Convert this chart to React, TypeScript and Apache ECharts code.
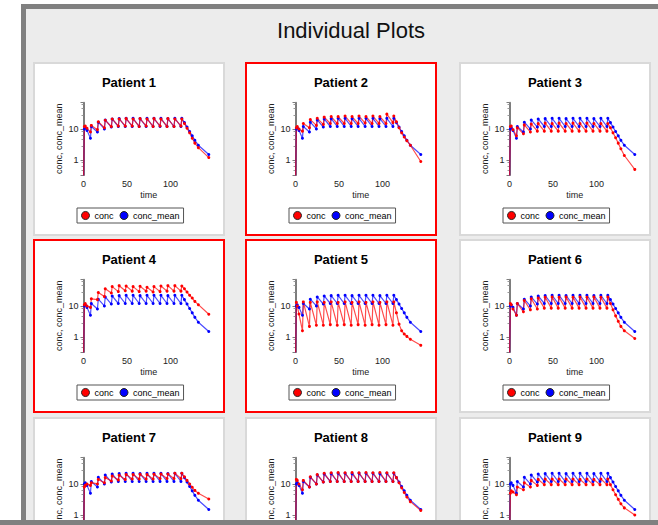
import { useEffect, useRef } from 'react';
import * as echarts from 'echarts';

const FONT = '"Liberation Sans", Arial, Helvetica, sans-serif';

const MAIN_TITLE = 'Individual Plots';
const PATIENTS = ['Patient 1', 'Patient 2', 'Patient 3', 'Patient 4', 'Patient 5', 'Patient 6', 'Patient 7', 'Patient 8', 'Patient 9'];
const HIGHLIGHTED = [false, true, false, true, true, false, false, false, false];
const SERIES_NAMES = ['conc', 'conc_mean'];
const X_NAME = 'time';
const Y_NAME = 'conc, conc_mean';
const Y_LABELS = [1, 10];

// sampling times (h)
const TIME = [0, 1, 2, 4, 8,
  9, 16, 17, 24, 25, 32, 33, 40, 41, 48, 49, 56, 57, 64, 65, 72, 73, 80, 81, 88, 89, 96, 97, 104, 105, 112,
  113, 116, 119, 122, 125, 128, 132, 144];

const CONC_MEAN = [0.2, 10, 11, 9, 5,
  12, 8, 16.5, 10, 19.5, 11.5, 21, 12, 21.5, 12, 22, 12, 22, 12, 21.5, 12, 22, 12, 22, 12, 22, 12, 21.5, 12, 22, 12,
  22, 16, 11.5, 8.3, 6, 4.3, 3, 1.5];

const CONC_P1 = [0.2, 12, 12.5, 10.5, 8,
  13, 9.5, 17, 11, 19, 12, 21, 12.5, 21, 12.5, 21.5, 12.5, 21, 12, 21.5, 12.5, 21, 12, 21.5, 12.5, 21, 12, 21.5, 12, 21, 12.5,
  21, 15, 10.5, 7.5, 5, 3.5, 2.5, 1.2];
const CONC_P2 = [0.2, 11, 12, 10, 8.5,
  15, 11, 20, 13, 22, 14, 24, 15, 25, 15, 25, 15, 26, 15, 25, 15, 26, 15.5, 25, 15, 26, 15, 25, 15, 30, 16,
  26, 17, 11, 7.5, 5.5, 4.2, 3, 0.9];
const CONC_P3 = [0.2, 12, 12.5, 9.5, 6,
  11, 7, 13.5, 8, 14.5, 8.5, 15, 8.5, 15.5, 8.5, 15, 8.5, 15.5, 8.5, 15, 8.5, 15.5, 8.5, 15, 8.5, 15.5, 8.5, 15, 8.5, 15, 8.5,
  15, 11, 7.5, 5.2, 3.5, 2.3, 1.4, 0.5];
const CONC_P4 = [0.2, 11, 12, 10, 9,
  17, 16, 27, 20, 36, 26, 42, 29, 45, 31, 44, 30, 42, 29, 43, 30, 40, 28, 42, 29, 44, 30, 45, 30, 45, 30,
  44, 36, 28, 22, 18, 14, 11, 5.4];
const CONC_P5 = [0.2, 13, 10, 5.5, 1.6,
  13.5, 2.2, 13, 2.4, 13.5, 2.4, 13, 2.5, 13.5, 2.4, 13, 2.5, 13.5, 2.4, 13, 2.5, 13.5, 2.4, 13, 2.5, 13.5, 2.4, 13, 2.5, 13.5, 2.4,
  13.5, 6, 2.6, 1.6, 1.25, 1.05, 0.85, 0.54];
const CONC_P6 = [0.2, 12, 11, 8, 5,
  12, 6.5, 15, 7.5, 17, 8, 18, 8.5, 19, 8.5, 19.5, 8.5, 19, 8.5, 19.5, 8.5, 19, 8.5, 19.5, 8.5, 19, 8.5, 19.5, 8.5, 19, 8.5,
  19.5, 12, 7.5, 4.8, 3.2, 2.2, 1.6, 0.9];
const CONC_P7 = [0.2, 8, 9, 10, 9,
  11, 10, 14, 11, 16, 12.5, 18, 13.5, 19, 14, 20, 14.5, 20, 14.5, 20.5, 14.5, 20, 14.5, 20.5, 15, 21, 15, 21, 15, 22, 15,
  22, 17, 13, 10, 7.8, 6.2, 5, 3.3];
const CONC_P8 = [0.2, 14, 13, 10, 6.5,
  13, 8, 17, 10, 20, 11.5, 22, 12, 23, 12, 23.5, 12, 23, 12, 23.5, 12, 23, 12, 23.5, 12, 23, 12, 23.5, 12, 23, 12,
  23, 16, 11, 7.5, 5.3, 3.8, 2.7, 1.4];
const CONC_P9 = [0.2, 5, 6, 5.5, 4.5,
  8, 6.5, 11, 8, 13, 9, 14, 9.5, 14.5, 9.5, 14.5, 9.5, 14.5, 9.5, 14.5, 9.5, 14.5, 9.5, 14, 9.5, 14.5, 9.5, 14, 9.5, 14.5, 9.5,
  14.5, 9.5, 6.5, 4.5, 3.2, 2.3, 1.7, 1.0];

const CONC = [CONC_P1, CONC_P2, CONC_P3, CONC_P4, CONC_P5, CONC_P6, CONC_P7, CONC_P8, CONC_P9];

// layout
const COLS = [34, 246, 460];
const ROWS = [63, 240, 418];
const PW = 190;
const PH = 172;

function buildOption() {
  const grids: any[] = [];
  const xAxes: any[] = [];
  const yAxes: any[] = [];
  const series: any[] = [];
  const legends: any[] = [];
  const graphics: any[] = [];

  graphics.push({ type: 'rect', z: -30, shape: { x: 0, y: 0, width: 658, height: 525 }, style: { fill: '#ffffff' } });
  graphics.push({ type: 'rect', z: -29, shape: { x: 21, y: 4, width: 637, height: 521 }, style: { fill: '#808080' } });
  graphics.push({ type: 'rect', z: -28, shape: { x: 26, y: 9, width: 632, height: 511 }, style: { fill: '#ececec' } });
  graphics.push({
    type: 'text', z: 10, x: 351, y: 30,
    style: { text: MAIN_TITLE, fill: '#111', font: `22px ${FONT}`, textAlign: 'center', textVerticalAlign: 'middle', align: 'center', verticalAlign: 'middle' },
  });

  PATIENTS.forEach((name, i) => {
    const px = COLS[i % 3];
    const py = ROWS[Math.floor(i / 3)];
    graphics.push({
      type: 'rect', z: -20,
      shape: { x: px, y: py, width: PW, height: PH },
      style: { fill: '#ffffff', stroke: HIGHLIGHTED[i] ? '#ff0000' : '#d9d9d9', lineWidth: 2 },
    });
    graphics.push({
      type: 'text', z: 10, x: px + PW / 2, y: py + 19,
      style: { text: name, fill: '#000', font: `bold 13px ${FONT}`, textAlign: 'center', textVerticalAlign: 'middle', align: 'center', verticalAlign: 'middle' },
    });

    grids.push({ left: px + 49.5, top: py + 39.7, width: 130.5, height: 72.3, containLabel: false, outerBoundsMode: 'none' });

    xAxes.push({
      type: 'value', gridIndex: i, min: 0, max: 150, interval: 50,
      axisLine: { show: false },
      axisTick: { show: false },
      splitLine: { show: false },
      axisLabel: { fontSize: 9, color: '#222', fontFamily: FONT, margin: 4, showMaxLabel: false },
      name: X_NAME, nameLocation: 'middle', nameGap: 15,
      nameTextStyle: { fontSize: 9, color: '#222', fontFamily: FONT },
    });

    yAxes.push({
      type: 'log', logBase: 10, gridIndex: i, min: 0.33, max: 70,
      axisLine: { show: true, lineStyle: { color: '#7d7d7d', width: 2 } },
      axisTick: { show: true, length: 3, lineStyle: { color: '#7d7d7d', width: 1 } },
      minorTick: { show: true, splitNumber: 5, length: 2, lineStyle: { color: '#999', width: 1 } },
      splitLine: { show: false },
      axisLabel: {
        fontSize: 9, color: '#222', fontFamily: FONT, margin: 5,
        formatter: (v: number) => {
          const r = Math.round(v * 1000) / 1000;
          return Y_LABELS.includes(r) ? String(r) : '';
        },
      },
      name: Y_NAME, nameLocation: 'middle', nameGap: 20,
      nameTextStyle: { fontSize: 9, color: '#222', fontFamily: FONT },
    });

    series.push({
      type: 'line', name: SERIES_NAMES[1], xAxisIndex: i, yAxisIndex: i,
      data: TIME.map((t, k) => [t, CONC_MEAN[k]]),
      symbol: 'circle', symbolSize: 3, showSymbol: true, clip: true, silent: true,
      lineStyle: { width: 1.2, color: 'rgba(0,0,255,0.7)' },
      itemStyle: { color: '#0000ff' },
    });
    series.push({
      type: 'line', name: SERIES_NAMES[0], xAxisIndex: i, yAxisIndex: i,
      data: TIME.map((t, k) => [t, CONC[i][k]]),
      symbol: 'circle', symbolSize: 3, showSymbol: true, clip: true, silent: true,
      lineStyle: { width: 1.2, color: 'rgba(255,0,0,0.7)' },
      itemStyle: { color: '#ff0000' },
    });

    legends.push({
      data: SERIES_NAMES, left: px + PW / 2 - 52, top: py + 145, orient: 'horizontal',
      icon: 'circle', itemWidth: 8, itemHeight: 8, itemGap: 6, padding: [3, 4],
      borderColor: '#555', borderWidth: 1, borderRadius: 0, backgroundColor: '#ffffff',
      selectedMode: false,
      itemStyle: { borderColor: '#222', borderWidth: 1 },
      textStyle: { fontSize: 9, color: '#000', fontFamily: FONT },
    });
  });

  graphics.push({ type: 'rect', z: 100, shape: { x: 0, y: 520, width: 658, height: 5 }, style: { fill: '#808080' } });

  return {
    animation: false,
    backgroundColor: '#ffffff',
    textStyle: { fontFamily: FONT },
    graphic: { elements: graphics },
    grid: grids,
    xAxis: xAxes,
    yAxis: yAxes,
    legend: legends,
    series,
  };
}

export default function App() {
  const ref = useRef<HTMLDivElement>(null);
  useEffect(() => {
    if (!ref.current) return;
    const chart = echarts.init(ref.current, undefined, { renderer: 'svg', width: 658, height: 525 });
    chart.setOption(buildOption() as any);
    return () => chart.dispose();
  }, []);
  return <div ref={ref} style={{ position: 'fixed', left: 0, top: 0, width: 658, height: 525 }} />;
}
